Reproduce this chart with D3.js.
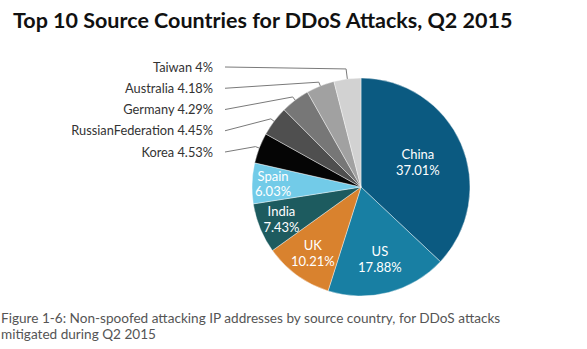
<!DOCTYPE html>
<html><head><meta charset="utf-8">
<script src="https://cdn.jsdelivr.net/npm/d3@7"></script>
<style>body{margin:0;background:#fff}svg{display:block}</style>
</head><body>
<svg id="c" width="587" height="349"></svg>
<script>
const countries = ["China","US","UK","India","Spain","Korea","RussianFederation","Germany","Australia","Taiwan"];
const shares = [37.01,17.88,10.21,7.43,6.03,4.53,4.45,4.29,4.18,4];
const shareLabels = ["37.01%","17.88%","10.21%","7.43%","6.03%","4.53%","4.45%","4.29%","4.18%","4%"];
const insideLabel = [true,true,true,true,true,false,false,false,false,false];
const title = "Top 10 Source Countries for DDoS Attacks, Q2 2015";
const caption = ["Figure 1-6: Non-spoofed attacking IP addresses by source country, for DDoS attacks","mitigated during Q2 2015"];

const colors = ["#0b5a81","#187fa3","#d9822e","#1d5b5f","#72cbe8","#050505","#4f4f4f","#777777","#a1a1a1","#d2d2d2"];
const inLabelR = [62,75,82,86,88];

const svg = d3.select("#c");
const font = "Lato, 'Open Sans', sans-serif";
const cx = 361, cy = 187, R = 109;

svg.append("text").attr("x",13).attr("y",28).attr("font-family",font)
  .attr("font-weight","bold").attr("font-size",21.5).attr("fill","#111").text(title);

const data = countries.map((c,i)=>({name:c,value:shares[i],label:shareLabels[i],inside:insideLabel[i],i}));
const pie = d3.pie().sort(null).value(d=>d.value);
const arcs = pie(data);
const arc = d3.arc().innerRadius(0).outerRadius(R);
const g = svg.append("g").attr("transform",`translate(${cx},${cy})`);
g.selectAll("path").data(arcs).join("path").attr("d",arc)
  .attr("fill",d=>colors[d.index]).attr("stroke","#fff").attr("stroke-width",0.4);

// inside labels
arcs.filter(d=>d.data.inside).forEach(d=>{
  const a = (d.startAngle+d.endAngle)/2;
  const r = inLabelR[d.index];
  const x = r*Math.sin(a), y = -r*Math.cos(a);
  const t = g.append("text").attr("x",x).attr("y",y).attr("text-anchor","middle")
    .attr("font-family",font).attr("font-size",13).attr("fill","#fff");
  t.append("tspan").attr("x",x).attr("dy","-0.25em").text(d.data.name);
  t.append("tspan").attr("x",x).attr("dy","1.2em").text(d.data.label);
});

// outside labels with leader lines
const outs = arcs.filter(d=>!d.data.inside).reverse(); // Taiwan first (top)
const labelY = d3.scalePoint().domain(outs.map(d=>d.data.name)).range([67,152]);
const elbowK = [10,4,4,4,4];
outs.forEach((d,k)=>{
  const a = (d.startAngle+d.endAngle)/2;
  const ex = cx + R*Math.sin(a), ey = cy - R*Math.cos(a);
  const kx = cx + (R+elbowK[k])*Math.sin(a), ky = cy - (R+elbowK[k])*Math.cos(a);
  const ly = labelY(d.data.name);
  svg.append("polyline").attr("points",`225,${ly} ${kx},${ky} ${ex},${ey}`)
    .attr("fill","none").attr("stroke","#7a7a7a").attr("stroke-width",1);
  svg.append("text").attr("x",213).attr("y",ly+4.5).attr("text-anchor","end")
    .attr("font-family",font).attr("font-size",12.8).attr("fill","#333")
    .text(d.data.name+" "+d.data.label);
});

caption.forEach((line,i)=>{
  svg.append("text").attr("x",1).attr("y",323+i*16).attr("font-family",font)
    .attr("font-size",13.6).attr("fill","#555").text(line);
});
</script>
</body></html>
